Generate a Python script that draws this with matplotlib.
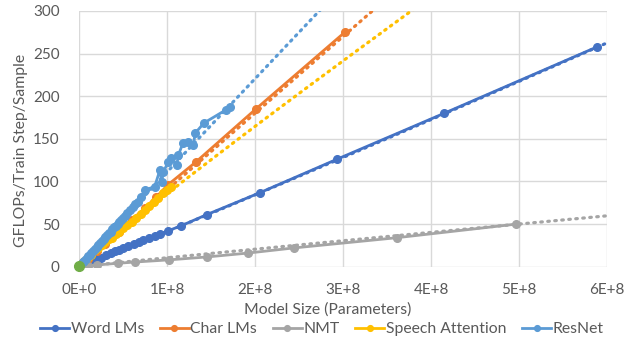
import numpy as np
import matplotlib
matplotlib.use("Agg")
import matplotlib.pyplot as plt

# ---- data (x in millions of parameters, y in GFLOPs/train step/sample) ----
word_x = [2, 5, 10, 15, 20, 25, 31, 36, 41, 46, 50, 56, 62, 68, 73, 80, 86, 92, 101, 116, 145, 206, 293, 415, 589]
word_y = [1, 2.5, 4.5, 6.5, 8.5, 10.5, 14, 15.5, 18.5, 19.5, 22, 24, 27, 29, 31, 34, 36, 38, 42, 48, 61, 87, 126, 180, 258]

char_x = [5, 10, 20, 30, 45, 60, 75, 88, 101, 133, 201, 302]
char_y = [4.5, 9, 18, 27, 41, 55, 69, 82, 96, 123, 185, 275]

nmt_x = [3, 10, 20, 44, 64, 102, 145, 192, 244, 361, 497]
nmt_y = [0.5, 1.2, 2, 4, 5.5, 8, 11.4, 16, 22, 34, 50]

speech_x = [3, 6, 10, 14, 18, 22, 26, 30, 34, 38, 42, 46, 50, 55, 60, 65, 70, 75, 80, 85, 90, 95, 100, 105]
speech_y = [4, 7, 11, 14, 20, 22, 25, 29, 32, 34, 38, 41, 45, 49, 53, 57, 62, 66, 71, 76, 81, 86, 90, 94]

resnet_x = [1, 2, 4, 6, 8, 10, 12, 14, 16, 18, 20, 22, 24, 26, 28, 30, 32, 34, 36, 38, 40, 42, 44, 46,
            48, 50, 52, 55, 58, 61, 64, 67, 71, 75, 86, 92, 94, 96, 101.5, 105, 111, 113, 118, 123.5,
            130, 132, 142, 167, 172]
resnet_y = [1.5, 3, 5, 7, 9.5, 12, 14, 16, 19, 21, 23, 25, 28, 30, 32, 35, 37, 39, 41, 44, 46, 48, 50, 53,
            55, 57, 60, 63, 66, 70, 73, 76, 82, 90, 94, 113.5, 99.8, 111.5, 123, 127, 119, 131, 144.8, 146.7,
            142.8, 156.6, 168.6, 184, 187.8]

other_x = [0.5]
other_y = [0.3]

# power trendlines y = a * (x / 1e8) ** b
trend_a = [41.1, 90.0, 10.5, 85.5, 111.0]
trend_b = [1.035, 1.0, 0.97, 0.945, 0.99]

names = ["Word LMs", "Char LMs", "NMT", "Speech Attention", "ResNet"]
colors = ["#4472C4", "#ED7D31", "#A5A5A5", "#FFC000", "#5B9BD5"]
xs_all = [word_x, char_x, nmt_x, speech_x, resnet_x]
ys_all = [word_y, char_y, nmt_y, speech_y, resnet_y]

xticks = [0, 1e8, 2e8, 3e8, 4e8, 5e8, 6e8]
xtick_labels = ["0E+0", "1E+8", "2E+8", "3E+8", "4E+8", "5E+8", "6E+8"]
yticks = [0, 50, 100, 150, 200, 250, 300]

plt.rcParams['font.family'] = ['Lato', 'DejaVu Sans']
text_color = "#595959"
fs = 11.3

fig = plt.figure(figsize=(6.36, 3.37), dpi=100)
ax = fig.add_axes([0.1242, 0.2086, 0.9544 - 0.1242, 0.9674 - 0.2086])

trend_x = np.linspace(1e5, 6e8, 600)
handles = []
for name, xs, ys, col, a, b in zip(names, xs_all, ys_all, colors, trend_a, trend_b):
    x = np.array(xs) * 1e6
    y = np.array(ys)
    ax.plot(trend_x, a * (trend_x / 1e8) ** b, linestyle=(0, (0.5, 1.7)), color=col,
            linewidth=2.3, dash_capstyle='round', zorder=2)
    h, = ax.plot(x, y, '-o', color=col, linewidth=2, markersize=5.5, zorder=3, label=name)
    handles.append(h)

ax.plot(np.array(other_x) * 1e6, other_y, 'o', color="#70AD47", markersize=7, zorder=4, clip_on=False)

ax.set_xlim(0, 6e8)
ax.set_ylim(0, 300)
ax.set_xticks(xticks)
ax.set_xticklabels(xtick_labels)
ax.set_yticks(yticks)
ax.grid(True, color="#D9D9D9", linewidth=1)
ax.set_axisbelow(True)
for s in ax.spines.values():
    s.set_visible(False)
ax.tick_params(length=0, labelsize=11, colors=text_color)
ax.tick_params(axis='x', pad=12)
ax.tick_params(axis='y', pad=14)

fig.text(21 / 636, 1 - 150 / 337, "GFLOPs/Train Step/Sample", rotation=90, ha='center', va='center',
         fontsize=fs, color=text_color)
fig.text(328 / 636, 1 - 310 / 337, "Model Size (Parameters)", ha='center', va='center',
         fontsize=fs, color=text_color)

leg = fig.legend(handles=handles, loc='center', bbox_to_anchor=(322 / 636, 1 - 329 / 337), ncol=5,
                 frameon=False, fontsize=fs, handlelength=1.85, handletextpad=0.1, columnspacing=1.0,
                 markerscale=0.75, borderaxespad=0, borderpad=0)
for t in leg.get_texts():
    t.set_color(text_color)

fig.savefig("out.png", dpi=100)
